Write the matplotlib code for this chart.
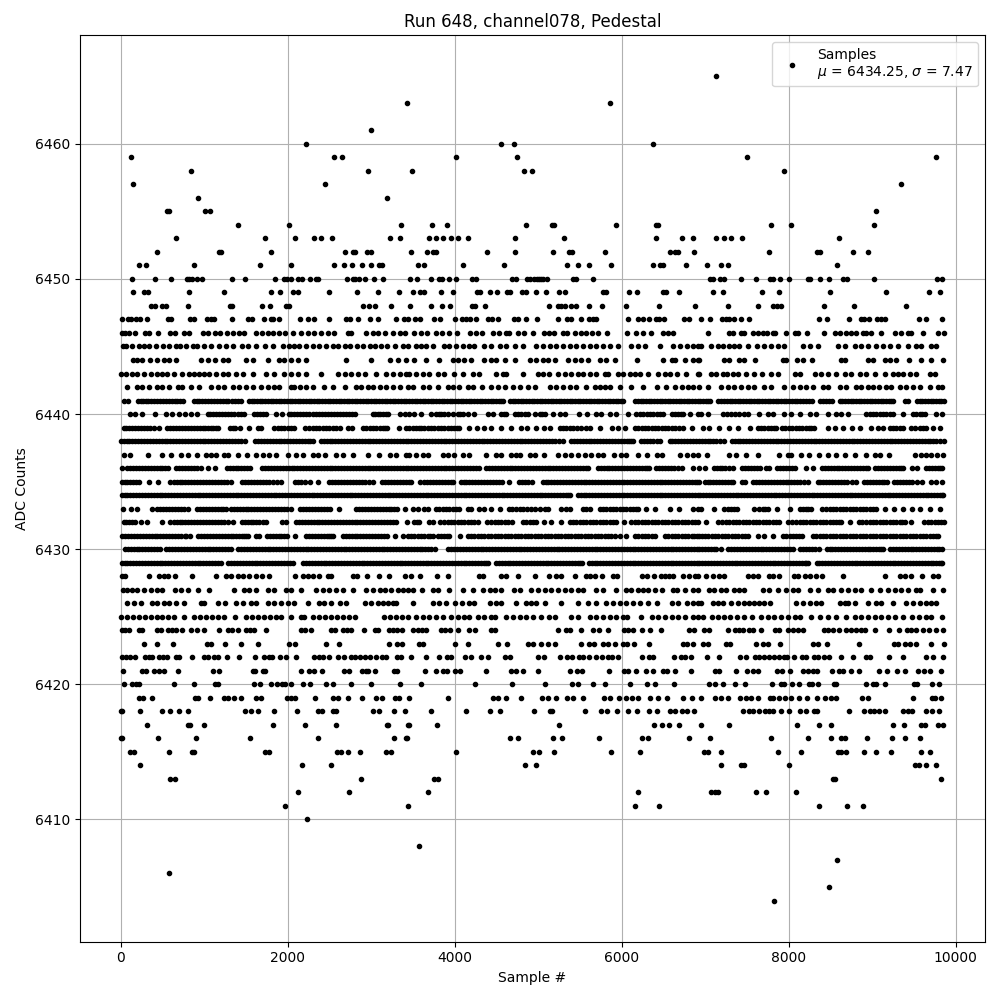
import matplotlib
matplotlib.use("Agg")
import matplotlib.pyplot as plt

# samples, one list per ADC level
row_6465 = [7124]
row_6463 = [3432, 5864]
row_6461 = [3002]
row_6460 = [2222, 4558, 4714, 6368]
row_6459 = [128, 2558, 2654, 4018, 4750, 7496, 9760]
row_6458 = [846, 2966, 3492, 4833, 4928, 7940]
row_6457 = [152, 2450, 9344]
row_6456 = [930, 3192]
row_6455 = [560, 580, 1014, 1074, 9044]
row_6454 = [1408, 2020, 3360, 3730, 3910, 4856, 5160, 5188, 5936, 6404, 6432, 7784, 8024, 9020]
row_6453 = [666, 1732, 2090, 2318, 2402, 2534, 3228, 3348, 3695, 3780, 3862, 3958, 4042, 4162, 4724, 5312, 6404, 6716, 6848, 7124, 7220, 7304, 7436, 8600]
row_6452 = [440, 1178, 1205, 1804, 2690, 2780, 2805, 2953, 3000, 3480, 3670, 3742, 3778, 4390, 4724, 5180, 5372, 5408, 5804, 6572, 6632, 6668, 6860, 7760, 8336, 8368, 8768, 8948]
row_6451 = [224, 307, 882, 1672, 2043, 2558, 2678, 2773, 2893, 3000, 3096, 3132, 3563, 3635, 4102, 4592, 5348, 5480, 5612, 5876, 6368, 6452, 6488, 6764, 7016, 7184, 7268, 8576]
row_6450 = [140, 415, 607, 798, 822, 858, 918, 978, 1337, 1492, 1851, 1960, 1995, 2043, 2127, 2175, 2270, 2342, 2366, 2713, 2785, 2809, 2857, 2929, 3037, 3144, 3467, 3551, 3719, 3814, 3850, 3934, 4018, 4210, 4250, 4688, 4736, 4868, 4896, 4948, 4988, 5008, 5030, 5060, 5108, 5420, 5448, 5660, 7052, 7088, 7172, 7220, 7424, 7604, 7772, 7808, 7892, 8000, 8228, 8256, 8372, 8480, 8648, 8696, 9020, 9776, 9836]
row_6449 = [152, 283, 331, 822, 1241, 1804, 1911, 2067, 2127, 2498, 2833, 3085, 3336, 3503, 3587, 3635, 3838, 3982, 4270, 4306, 4425, 4509, 4629, 4665, 4809, 4856, 4976, 5096, 5252, 5324, 5776, 5808, 6092, 6188, 6488, 6524, 6680, 7088, 7208, 7676, 7880, 8492, 9164, 9680, 9812]
row_6448 = [367, 415, 499, 539, 810, 1313, 1337, 1696, 1792, 1983, 2015, 2905, 2977, 3049, 3240, 3467, 3719, 3850, 3946, 4210, 4238, 4365, 5132, 5240, 5276, 5324, 5396, 5456, 5612, 5768, 6056, 6440, 6872, 7268, 7628, 7808, 7856, 7904, 8420, 8780, 9408]
row_6447 = [12, 92, 120, 180, 228, 319, 570, 600, 834, 878, 1038, 1078, 1118, 1337, 1529, 1576, 1720, 1804, 1828, 1900, 2151, 2246, 2318, 2498, 2702, 2750, 2845, 2989, 3085, 3300, 3396, 3444, 3527, 3587, 3755, 3826, 4006, 4090, 4138, 4186, 4258, 4401, 4449, 4521, 4714, 4762, 4856, 4988, 5240, 5348, 5396, 5516, 5612, 5660, 5696, 6080, 6200, 6248, 6320, 6404, 6440, 6500, 6740, 6800, 6944, 7052, 7196, 7248, 7284, 7340, 7424, 7520, 8360, 8456, 8720, 8864, 8900, 8960, 9056, 9104, 9152, 9560, 9648, 9836]
row_6446 = [12, 50, 100, 172, 292, 340, 452, 596, 648, 760, 820, 980, 1048, 1132, 1192, 1268, 1340, 1412, 1472, 1620, 1692, 1760, 1820, 1900, 1972, 2060, 2156, 2240, 2320, 2400, 2480, 2560, 2720, 2756, 2940, 3020, 3080, 3160, 3260, 3340, 3400, 3512, 3592, 3672, 3772, 3852, 3932, 4032, 4184, 4252, 4332, 4452, 4532, 4612, 4652, 4752, 4832, 4940, 5068, 5128, 5188, 5296, 5348, 5440, 5508, 5568, 5640, 5720, 5828, 6060, 6176, 6248, 6344, 6488, 6548, 6608, 7028, 7288, 7328, 7428, 7468, 7568, 7628, 7688, 7736, 7808, 7840, 7964, 8068, 8108, 8216, 8420, 8548, 8608, 8680, 8748, 8808, 8888, 8920, 8984, 9104, 9272, 9344, 9424, 9464, 9608, 9788, 9852]
row_6445 = [28, 68, 140, 220, 280, 340, 420, 508, 580, 660, 708, 788, 860, 908, 1000, 1080, 1180, 1260, 1340, 1452, 1520, 1620, 1732, 1820, 1940, 2020, 2080, 2140, 2220, 2300, 2372, 2460, 2540, 2600, 2680, 2748, 2828, 2900, 2980, 3040, 3120, 3188, 3280, 3380, 3440, 3536, 3596, 3656, 3736, 3876, 3936, 4016, 4096, 4176, 4236, 4356, 4436, 4536, 4616, 4716, 4816, 4976, 5056, 5136, 5216, 5296, 5376, 5456, 5536, 5616, 5696, 5776, 5856, 5956, 6116, 6196, 6276, 6456, 6616, 6696, 6776, 6856, 6916, 6948, 7068, 7148, 7208, 7288, 7348, 7408, 7508, 7616, 7708, 7788, 7868, 7948, 8168, 8248, 8348, 8588, 8668, 8788, 8868, 8948, 9048, 9128, 9208, 9308, 9428, 9528, 9588, 9708, 9768]
row_6444 = [148, 200, 260, 348, 440, 520, 580, 660, 960, 1040, 1132, 1220, 1280, 1500, 1580, 1760, 1900, 1960, 2040, 2120, 2220, 2700, 2996, 3220, 3320, 3420, 3516, 3656, 3816, 3976, 4036, 4116, 4196, 4356, 4436, 4496, 4596, 4716, 4896, 4976, 5056, 5116, 5196, 5356, 5436, 5516, 5596, 5736, 5816, 5916, 6184, 6496, 6596, 6636, 6756, 6856, 6916, 6928, 7228, 7288, 7408, 7468, 7596, 7928, 7968, 8096, 8168, 8276, 8628, 8668, 8948, 9008, 9148, 9208, 9288, 9440, 9588, 9708, 9848]
row_6443 = [0, 60, 140, 200, 280, 360, 440, 500, 560, 640, 740, 820, 880, 940, 1000, 1060, 1140, 1220, 1280, 1380, 1460, 1580, 1740, 1840, 1960, 2040, 2120, 2220, 2400, 2600, 2680, 2760, 2840, 2920, 3060, 3180, 3260, 3340, 3420, 3456, 3536, 3616, 3696, 3796, 3876, 3996, 4096, 4216, 4296, 4496, 4576, 4616, 4816, 4996, 5056, 5128, 5236, 5316, 5396, 5476, 5536, 5616, 5696, 5796, 5836, 5956, 6016, 6096, 6156, 6216, 6316, 6436, 6516, 6576, 6656, 6768, 6916, 6928, 7068, 7128, 7208, 7256, 7328, 7388, 7488, 7588, 7676, 7788, 7868, 8068, 8128, 8308, 8388, 8468, 8568, 8668, 8748, 8848, 8928, 9028, 9148, 9248, 9308, 9368, 9448, 9528, 9688, 9748]
row_6442 = [80, 200, 260, 340, 440, 500, 580, 692, 740, 840, 932, 1080, 1160, 1240, 1340, 1420, 1500, 1580, 1680, 1760, 1840, 1900, 2040, 2080, 2148, 2220, 2300, 2440, 2540, 2688, 2820, 2880, 2960, 3020, 3100, 3180, 3260, 3340, 3440, 3496, 3616, 3696, 3796, 3916, 3976, 4056, 4156, 4216, 4328, 4436, 4516, 4596, 4696, 4776, 4876, 4956, 5136, 5216, 5296, 5376, 5456, 5576, 5676, 5736, 5796, 5856, 5976, 6116, 6256, 6416, 6524, 6636, 6716, 6796, 6856, 6928, 7028, 7188, 7268, 7348, 7428, 7508, 7588, 7708, 7788, 7948, 8048, 8128, 8208, 8288, 8408, 8468, 8608, 8688, 8808, 8868, 8948, 9008, 9080, 9168, 9228, 9328, 9408, 9488, 9568, 9696, 9788, 9828]
row_6441 = [36, 84, 208, 270, 330, 400, 470, 540, 610, 680, 752, 876, 940, 1010, 1080, 1150, 1220, 1290, 1370, 1444, 1536, 1600, 1665, 1730, 1795, 1860, 1925, 1990, 2055, 2120, 2185, 2250, 2315, 2380, 2445, 2510, 2575, 2640, 2705, 2770, 2835, 2900, 2965, 3030, 3095, 3160, 3225, 3290, 3355, 3420, 3485, 3550, 3615, 3680, 3745, 3810, 3875, 3940, 4005, 4070, 4135, 4200, 4265, 4330, 4395, 4460, 4525, 4572, 4660, 4725, 4790, 4855, 4920, 4985, 5050, 5115, 5180, 5245, 5310, 5375, 5440, 5505, 5570, 5635, 5700, 5765, 5830, 5895, 5960, 6020, 6160, 6225, 6290, 6355, 6420, 6485, 6550, 6615, 6680, 6745, 6810, 6875, 6940, 7005, 7060, 7156, 7225, 7290, 7355, 7420, 7485, 7550, 7615, 7680, 7745, 7810, 7875, 7940, 8005, 8070, 8135, 8200, 8272, 8372, 8440, 8512, 8608, 8675, 8740, 8805, 8870, 8935, 9000, 9065, 9130, 9195, 9252, 9392, 9432, 9532, 9600, 9665, 9730, 9795, 9852]
fill_6441 = [240, 300, 365, 435, 505, 575, 645, 715, 908, 975, 1045, 1115, 1185, 1255, 1330, 1405, 1568, 1632, 1698, 1762, 1828, 1892, 1958, 2022, 2088, 2152, 2218, 2282, 2348, 2412, 2478, 2542, 2608, 2672, 2738, 2802, 2868, 2932, 2998, 3062, 3128, 3192, 3258, 3322, 3388, 3452, 3518, 3582, 3648, 3712, 3778, 3842, 3908, 3972, 4038, 4102, 4168, 4232, 4298, 4362, 4428, 4492, 4548, 4692, 4758, 4822, 4888, 4952, 5018, 5082, 5148, 5212, 5278, 5342, 5408, 5472, 5538, 5602, 5668, 5732, 5798, 5862, 5928, 5990, 6192, 6258, 6322, 6388, 6452, 6518, 6582, 6648, 6712, 6778, 6842, 6908, 6972, 7032, 7190, 7258, 7322, 7388, 7452, 7518, 7582, 7648, 7712, 7778, 7842, 7908, 7972, 8038, 8102, 8168, 8236, 8406, 8476, 8642, 8708, 8772, 8838, 8902, 8968, 9032, 9098, 9162, 9224, 9566, 9632, 9698, 9762, 9824]
row_6440 = [108, 172, 260, 408, 540, 610, 700, 770, 840, 910, 1040, 1110, 1180, 1250, 1320, 1400, 1480, 1600, 1670, 1740, 1860, 1930, 2010, 2080, 2150, 2220, 2300, 2380, 2450, 2520, 2590, 2660, 2730, 2800, 3016, 3080, 3140, 3204, 3340, 3400, 3456, 3516, 3596, 3716, 3776, 3836, 3916, 3976, 4036, 4096, 4156, 4236, 4396, 4456, 4556, 4616, 4716, 4796, 4876, 4956, 5016, 5080, 5176, 5256, 5316, 5488, 5588, 5696, 5756, 5856, 5936, 6076, 6176, 6256, 6336, 6416, 6496, 6596, 6676, 6736, 6816, 6916, 6948, 7028, 7208, 7308, 7408, 7508, 7648, 7748, 7808, 7948, 8028, 8128, 8248, 8320, 8468, 8568, 8628, 8708, 8928, 9008, 9088, 9168, 9248, 9368, 9488, 9568, 9628, 9768, 9828]
fill_6440 = [1075, 1145, 1215, 1285, 1360, 1440, 1635, 1705, 2045, 2115, 2185, 2260, 2340, 2415, 2485, 2555, 2625, 2695, 2765, 3048, 3110, 3172, 3806, 3876, 4066, 4586, 4756, 4836, 5040, 6216, 6296, 6376, 6456, 6636, 6706, 7258, 7358, 7458, 8968, 9048, 9128, 9208, 9528, 9598]
row_6439 = [36, 100, 170, 240, 310, 400, 464, 556, 630, 700, 770, 840, 910, 980, 1050, 1110, 1164, 1308, 1372, 1428, 1540, 1640, 1680, 1836, 1920, 2000, 2080, 2208, 2300, 2380, 2460, 2540, 2620, 2716, 2768, 2904, 2980, 3060, 3140, 3188, 3328, 3420, 3456, 3536, 3596, 3676, 3756, 3836, 3916, 3996, 4056, 4168, 4264, 4356, 4436, 4556, 4676, 4796, 4864, 4976, 5064, 5144, 5256, 5336, 5416, 5516, 5616, 5736, 5884, 5956, 6036, 6156, 6236, 6316, 6396, 6476, 6556, 6636, 6736, 6836, 6968, 7048, 7168, 7288, 7396, 7540, 7628, 7708, 7788, 7848, 7920, 8000, 8080, 8160, 8240, 8296, 8468, 8548, 8648, 8760, 8856, 8988, 9068, 9128, 9208, 9288, 9368, 9468, 9568, 9648, 9728, 9808]
fill_6439 = [68, 135, 205, 275, 355, 593, 665, 735, 805, 875, 945, 1015, 1080, 1137, 1340, 1878, 1960, 2040, 2254, 2340, 2420, 2500, 2580, 2942, 3020, 3100, 3164, 3496, 3566, 3636, 3716, 3796, 3876, 3956, 4026, 5296, 5376, 5466, 5566, 6196, 6276, 6356, 6436, 6516, 6596, 6686, 7668, 7748, 7818, 7960, 8040, 8120, 8200, 8268, 9248, 9328, 9508, 9608]
row_6438 = [0, 70, 140, 210, 280, 350, 420, 490, 560, 630, 700, 770, 840, 910, 980, 1050, 1120, 1190, 1260, 1330, 1400, 1484, 1608, 1680, 1750, 1820, 1890, 1960, 2030, 2100, 2170, 2240, 2304, 2396, 2466, 2536, 2606, 2676, 2746, 2816, 2886, 2956, 3026, 3096, 3166, 3236, 3306, 3376, 3446, 3516, 3586, 3656, 3726, 3796, 3866, 3936, 4006, 4076, 4146, 4216, 4286, 4356, 4426, 4496, 4566, 4636, 4706, 4776, 4846, 4916, 4986, 5056, 5126, 5196, 5300, 5392, 5462, 5532, 5602, 5672, 5742, 5812, 5882, 5952, 6022, 6092, 6140, 6232, 6302, 6372, 6460, 6572, 6642, 6712, 6782, 6852, 6922, 6992, 7062, 7132, 7220, 7316, 7386, 7456, 7526, 7596, 7666, 7736, 7806, 7876, 7946, 8016, 8086, 8156, 8226, 8296, 8366, 8436, 8506, 8576, 8646, 8716, 8786, 8856, 8926, 8996, 9066, 9136, 9206, 9276, 9346, 9416, 9486, 9556, 9626, 9696, 9766, 9852]
fill_6438 = [35, 105, 175, 245, 315, 385, 455, 525, 595, 665, 735, 805, 875, 945, 1015, 1085, 1155, 1225, 1295, 1365, 1442, 1644, 1715, 1785, 1855, 1925, 1995, 2065, 2135, 2205, 2272, 2431, 2501, 2571, 2641, 2711, 2781, 2851, 2921, 2991, 3061, 3131, 3201, 3271, 3341, 3411, 3481, 3551, 3621, 3691, 3761, 3831, 3901, 3971, 4041, 4111, 4181, 4251, 4321, 4391, 4461, 4531, 4601, 4671, 4741, 4811, 4881, 4951, 5021, 5091, 5161, 5248, 5427, 5497, 5567, 5637, 5707, 5777, 5847, 5917, 5987, 6057, 6116, 6267, 6337, 6416, 6607, 6677, 6747, 6817, 6887, 6957, 7027, 7097, 7176, 7351, 7421, 7491, 7561, 7631, 7701, 7771, 7841, 7911, 7981, 8051, 8121, 8191, 8261, 8331, 8401, 8471, 8541, 8611, 8681, 8751, 8821, 8891, 8961, 9031, 9101, 9171, 9241, 9311, 9381, 9451, 9521, 9591, 9661, 9731, 9809]
row_6437 = [36, 108, 332, 492, 600, 720, 800, 908, 1020, 1080, 1140, 1240, 1280, 1400, 1508, 1620, 1700, 1780, 1860, 2008, 2100, 2180, 2300, 2360, 2448, 2580, 2660, 2780, 2960, 3092, 3220, 3300, 3420, 3456, 3536, 3616, 3676, 3856, 3916, 3996, 4096, 4176, 4376, 4496, 4556, 4676, 4736, 4784, 4896, 4956, 5068, 5236, 5316, 5396, 5476, 5556, 5636, 5716, 5776, 5908, 5996, 6048, 6196, 6304, 6416, 6476, 6696, 6776, 6856, 6916, 7016, 7288, 7368, 7488, 7628, 7880, 7988, 8028, 8140, 8240, 8360, 8468, 8568, 8668, 8788, 8928, 9028, 9088, 9196, 9512, 9588, 9648, 9708, 9776, 9848]
row_6436 = [16, 80, 150, 220, 290, 360, 430, 500, 564, 664, 735, 805, 880, 956, 1040, 1132, 1276, 1345, 1410, 1480, 1544, 1696, 1766, 1836, 1906, 1976, 2046, 2116, 2186, 2256, 2326, 2396, 2466, 2536, 2606, 2676, 2746, 2816, 2886, 2956, 3026, 3096, 3166, 3236, 3306, 3376, 3446, 3516, 3586, 3656, 3726, 3796, 3866, 3936, 4006, 4076, 4146, 4216, 4286, 4376, 4446, 4516, 4586, 4656, 4726, 4796, 4866, 4936, 5006, 5076, 5146, 5216, 5286, 5356, 5426, 5496, 5566, 5600, 5712, 5782, 5852, 5922, 5992, 6062, 6132, 6202, 6272, 6320, 6412, 6482, 6552, 6622, 6720, 6852, 6922, 6992, 7104, 7170, 7240, 7332, 7444, 7510, 7580, 7660, 7732, 7764, 7864, 7930, 8000, 8072, 8204, 8288, 8396, 8466, 8536, 8606, 8676, 8746, 8816, 8886, 8952, 9036, 9106, 9176, 9246, 9316, 9372, 9476, 9532, 9644, 9714, 9784, 9836]
fill_6436 = [115, 185, 255, 325, 395, 465, 532, 700, 770, 842, 918, 1310, 1378, 1445, 1512, 1731, 1801, 1871, 1941, 2011, 2081, 2151, 2221, 2291, 2361, 2431, 2501, 2571, 2641, 2711, 2781, 2851, 2921, 2991, 3061, 3131, 3201, 3271, 3341, 3411, 3481, 3551, 3621, 3691, 3761, 3831, 3901, 3971, 4041, 4111, 4181, 4251, 4411, 4481, 4551, 4621, 4691, 4761, 4831, 4901, 4971, 5041, 5111, 5181, 5251, 5321, 5391, 5461, 5531, 5747, 5817, 5887, 5957, 6027, 6097, 6167, 6237, 6296, 6447, 6517, 6587, 6670, 7137, 7205, 7286, 7477, 7545, 7620, 7897, 7965, 8036, 8431, 8501, 8571, 8641, 8711, 8781, 8851, 8919, 9071, 9141, 9211, 9281, 9344, 9679, 9749, 9810]
row_6435 = [16, 80, 150, 224, 336, 448, 596, 670, 740, 810, 880, 950, 1020, 1090, 1160, 1240, 1316, 1456, 1530, 1600, 1670, 1740, 1820, 1924, 2088, 2160, 2264, 2368, 2496, 2570, 2640, 2710, 2780, 2850, 2920, 3024, 3128, 3200, 3270, 3340, 3420, 3480, 3580, 3636, 3706, 3776, 3846, 3916, 3984, 4072, 4140, 4210, 4280, 4350, 4420, 4490, 4560, 4648, 4772, 4840, 4924, 5052, 5122, 5192, 5262, 5332, 5402, 5472, 5542, 5612, 5682, 5752, 5822, 5892, 5962, 6032, 6102, 6172, 6242, 6312, 6382, 6452, 6522, 6592, 6662, 6732, 6802, 6872, 6930, 6992, 7062, 7132, 7202, 7272, 7332, 7444, 7480, 7576, 7646, 7716, 7786, 7856, 7926, 7996, 8066, 8136, 8232, 8344, 8414, 8484, 8554, 8624, 8694, 8808, 8904, 8974, 9044, 9114, 9172, 9264, 9334, 9404, 9474, 9592, 9704, 9768, 9836]
fill_6435 = [48, 115, 187, 633, 705, 775, 845, 915, 985, 1055, 1125, 1200, 1278, 1493, 1565, 1635, 1705, 1780, 1872, 2124, 2212, 2533, 2605, 2675, 2745, 2815, 2885, 2972, 3164, 3235, 3305, 3380, 3450, 3671, 3741, 3811, 3881, 3950, 4106, 4175, 4245, 4315, 4385, 4455, 4525, 4806, 4882, 5087, 5157, 5227, 5297, 5367, 5437, 5507, 5577, 5647, 5717, 5787, 5857, 5927, 5997, 6067, 6137, 6207, 6277, 6347, 6417, 6487, 6557, 6627, 6697, 6767, 6837, 6900, 7027, 7097, 7167, 7237, 7302, 7611, 7681, 7751, 7821, 7891, 7961, 8031, 8101, 8184, 8379, 8449, 8519, 8589, 8659, 8751, 8939, 9009, 9079, 9143, 9299, 9369, 9439, 9533]
row_6434 = [12, 80, 150, 220, 290, 360, 430, 500, 570, 640, 710, 780, 850, 920, 990, 1060, 1130, 1200, 1270, 1340, 1410, 1480, 1550, 1620, 1690, 1760, 1830, 1900, 1970, 2040, 2110, 2180, 2250, 2320, 2390, 2460, 2530, 2600, 2670, 2740, 2810, 2880, 2950, 3020, 3090, 3160, 3230, 3300, 3370, 3440, 3510, 3580, 3650, 3720, 3790, 3860, 3930, 4000, 4070, 4140, 4210, 4280, 4350, 4420, 4490, 4560, 4630, 4700, 4770, 4840, 4910, 4980, 5050, 5120, 5190, 5260, 5330, 5380, 5472, 5542, 5612, 5682, 5752, 5822, 5892, 5962, 6032, 6102, 6172, 6242, 6312, 6382, 6452, 6522, 6592, 6662, 6732, 6802, 6872, 6942, 7012, 7082, 7152, 7222, 7292, 7362, 7432, 7502, 7572, 7642, 7712, 7782, 7852, 7922, 7992, 8062, 8132, 8202, 8272, 8342, 8412, 8482, 8552, 8622, 8692, 8762, 8832, 8902, 8972, 9042, 9112, 9182, 9252, 9322, 9392, 9462, 9532, 9602, 9672, 9742, 9812, 9848]
fill_6434 = [46, 115, 185, 255, 325, 395, 465, 535, 605, 675, 745, 815, 885, 955, 1025, 1095, 1165, 1235, 1305, 1375, 1445, 1515, 1585, 1655, 1725, 1795, 1865, 1935, 2005, 2075, 2145, 2215, 2285, 2355, 2425, 2495, 2565, 2635, 2705, 2775, 2845, 2915, 2985, 3055, 3125, 3195, 3265, 3335, 3405, 3475, 3545, 3615, 3685, 3755, 3825, 3895, 3965, 4035, 4105, 4175, 4245, 4315, 4385, 4455, 4525, 4595, 4665, 4735, 4805, 4875, 4945, 5015, 5085, 5155, 5225, 5295, 5355, 5507, 5577, 5647, 5717, 5787, 5857, 5927, 5997, 6067, 6137, 6207, 6277, 6347, 6417, 6487, 6557, 6627, 6697, 6767, 6837, 6907, 6977, 7047, 7117, 7187, 7257, 7327, 7397, 7467, 7537, 7607, 7677, 7747, 7817, 7887, 7957, 8027, 8097, 8167, 8237, 8307, 8377, 8447, 8517, 8587, 8657, 8727, 8797, 8867, 8937, 9007, 9077, 9147, 9217, 9287, 9357, 9427, 9497, 9567, 9637, 9707, 9777, 9830]
row_6433 = [28, 128, 192, 376, 440, 510, 580, 650, 720, 800, 916, 990, 1060, 1130, 1200, 1260, 1316, 1390, 1460, 1530, 1600, 1670, 1740, 1810, 1880, 1950, 2044, 2148, 2220, 2290, 2360, 2430, 2504, 2612, 2816, 2890, 2960, 3030, 3100, 3180, 3240, 3304, 3408, 3496, 3556, 3636, 3676, 3776, 3856, 3936, 4016, 4056, 4156, 4192, 4288, 4356, 4428, 4536, 4644, 4736, 4816, 4916, 5016, 5076, 5116, 5276, 5376, 5536, 5616, 5736, 5816, 5896, 5976, 6056, 6136, 6200, 6288, 6396, 6576, 6688, 6856, 6916, 6948, 7108, 7228, 7308, 7376, 7588, 7688, 7752, 7856, 8016, 8128, 8208, 8260, 8396, 8488, 8568, 8648, 8728, 8808, 8888, 8968, 9048, 9148, 9256, 9368, 9476, 9568, 9688, 9808]
fill_6433 = [475, 545, 615, 685, 760, 953, 1025, 1095, 1165, 1230, 1353, 1425, 1495, 1565, 1635, 1705, 1775, 1845, 1915, 1997, 2184, 2255, 2325, 2395, 2467, 2853, 2925, 2995, 3065, 3140, 3210, 3272, 3816, 3896, 3976, 4690, 4776, 4866, 4966, 5326, 5576, 5776, 5856, 5936, 6016, 6096, 6168, 7268, 7342, 7638, 7720, 8168, 8234, 8442, 8528, 8608, 8688, 8768, 8848, 8928, 9008]
row_6432 = [36, 100, 170, 248, 312, 492, 596, 670, 740, 810, 880, 950, 1020, 1090, 1160, 1240, 1344, 1448, 1520, 1590, 1660, 1744, 1936, 1984, 2104, 2170, 2240, 2310, 2380, 2450, 2520, 2590, 2660, 2730, 2800, 2870, 2940, 3010, 3080, 3150, 3220, 3300, 3432, 3516, 3576, 3688, 3736, 3824, 3916, 3996, 4076, 4156, 4236, 4276, 4384, 4476, 4556, 4636, 4680, 4816, 4896, 4976, 5064, 5156, 5276, 5376, 5456, 5536, 5616, 5696, 5776, 5856, 5936, 6024, 6116, 6196, 6276, 6356, 6436, 6516, 6596, 6676, 6756, 6836, 6916, 7008, 7156, 7248, 7328, 7408, 7488, 7568, 7648, 7728, 7808, 7888, 7996, 8088, 8168, 8248, 8328, 8408, 8488, 8568, 8628, 8728, 8836, 8928, 9008, 9088, 9168, 9248, 9328, 9388, 9464, 9616, 9708, 9788, 9856]
fill_6432 = [68, 135, 633, 705, 775, 845, 915, 985, 1055, 1125, 1200, 1290, 1484, 1555, 1625, 1700, 2137, 2205, 2275, 2345, 2415, 2485, 2555, 2625, 2695, 2765, 2835, 2905, 2975, 3045, 3115, 3185, 3260, 3546, 3870, 3956, 4036, 4116, 4196, 4430, 4516, 4596, 4856, 4936, 5416, 5496, 5576, 5656, 5736, 5816, 5896, 6156, 6236, 6316, 6396, 6476, 6556, 6636, 6716, 6796, 6876, 7202, 7288, 7368, 7448, 7528, 7608, 7688, 7768, 7848, 8042, 8128, 8208, 8288, 8368, 8448, 8528, 8598, 8882, 8968, 9048, 9128, 9208, 9288, 9358, 9662, 9748, 9822]
row_6431 = [16, 90, 160, 230, 300, 370, 440, 510, 580, 650, 720, 770, 824, 928, 1000, 1070, 1140, 1210, 1280, 1350, 1420, 1480, 1524, 1624, 1656, 1756, 1820, 1890, 1960, 1996, 2088, 2216, 2290, 2360, 2430, 2500, 2544, 2656, 2730, 2800, 2870, 2940, 3010, 3080, 3150, 3192, 3288, 3376, 3440, 3516, 3596, 3676, 3736, 3796, 3876, 3936, 4064, 4156, 4236, 4316, 4396, 4476, 4556, 4636, 4716, 4796, 4876, 4956, 5036, 5116, 5196, 5276, 5356, 5436, 5516, 5596, 5676, 5756, 5836, 5916, 5976, 6056, 6156, 6236, 6316, 6396, 6516, 6596, 6676, 6756, 6836, 6896, 6956, 7036, 7116, 7196, 7276, 7356, 7436, 7516, 7628, 7708, 7808, 7928, 8008, 8088, 8160, 8292, 8368, 8448, 8528, 8608, 8688, 8768, 8848, 8928, 9008, 9088, 9168, 9248, 9328, 9408, 9488, 9568, 9648, 9728, 9788]
fill_6431 = [53, 125, 195, 265, 335, 405, 475, 545, 615, 685, 785, 964, 1035, 1105, 1175, 1245, 1315, 1385, 1450, 1500, 1788, 1855, 1925, 2253, 2325, 2395, 2465, 2522, 2693, 2765, 2835, 2905, 2975, 3045, 3115, 3478, 3556, 3636, 3706, 3836, 3906, 4196, 4276, 4356, 4436, 4516, 4596, 4676, 4756, 4836, 4916, 4996, 5076, 5156, 5236, 5316, 5396, 5476, 5556, 5636, 5716, 5796, 5876, 6196, 6276, 6356, 6556, 6636, 6716, 6796, 6866, 6926, 6996, 7076, 7156, 7236, 7316, 7396, 7476, 7968, 8048, 8124, 8330, 8408, 8488, 8568, 8648, 8728, 8808, 8888, 8968, 9048, 9128, 9208, 9288, 9368, 9448, 9528, 9608, 9688, 9758]
row_6430 = [48, 120, 190, 260, 330, 400, 470, 548, 620, 690, 760, 830, 900, 970, 1040, 1110, 1180, 1250, 1316, 1408, 1478, 1548, 1618, 1688, 1758, 1828, 1898, 1968, 2038, 2108, 2178, 2248, 2318, 2388, 2458, 2528, 2598, 2668, 2738, 2808, 2878, 2948, 3018, 3088, 3158, 3228, 3298, 3368, 3438, 3508, 3578, 3648, 3718, 3760, 3924, 3994, 4064, 4134, 4204, 4274, 4344, 4414, 4484, 4554, 4624, 4694, 4764, 4834, 4904, 4974, 5044, 5114, 5184, 5254, 5324, 5394, 5464, 5534, 5604, 5674, 5744, 5814, 5884, 5954, 6024, 6094, 6164, 6234, 6304, 6374, 6444, 6514, 6584, 6654, 6724, 6794, 6864, 6930, 7000, 7070, 7130, 7192, 7276, 7346, 7416, 7486, 7556, 7626, 7696, 7766, 7836, 7906, 7976, 8052, 8132, 8202, 8272, 8364, 8452, 8522, 8592, 8662, 8732, 8802, 8872, 8942, 9012, 9082, 9132, 9212, 9282, 9352, 9422, 9492, 9562, 9632, 9702, 9772, 9832]
fill_6430 = [84, 155, 225, 295, 365, 435, 584, 655, 725, 795, 865, 935, 1005, 1075, 1145, 1215, 1283, 1443, 1513, 1583, 1653, 1723, 1793, 1863, 1933, 2003, 2073, 2143, 2213, 2283, 2353, 2423, 2493, 2563, 2633, 2703, 2773, 2843, 2913, 2983, 3053, 3123, 3193, 3263, 3333, 3403, 3473, 3543, 3613, 3683, 3959, 4029, 4099, 4169, 4239, 4309, 4379, 4449, 4519, 4589, 4659, 4729, 4799, 4869, 4939, 5009, 5079, 5149, 5219, 5289, 5359, 5429, 5499, 5569, 5639, 5709, 5779, 5849, 5919, 5989, 6059, 6129, 6199, 6269, 6339, 6409, 6479, 6549, 6619, 6689, 6759, 6829, 6897, 6965, 7035, 7100, 7311, 7381, 7451, 7521, 7591, 7661, 7731, 7801, 7871, 7941, 8014, 8167, 8237, 8318, 8487, 8557, 8627, 8697, 8767, 8837, 8907, 8977, 9047, 9107, 9247, 9317, 9387, 9457, 9527, 9597, 9667, 9737, 9802]
row_6429 = [12, 80, 150, 220, 290, 360, 430, 500, 570, 640, 710, 780, 850, 920, 990, 1060, 1130, 1204, 1288, 1358, 1428, 1498, 1568, 1638, 1708, 1778, 1848, 1918, 1988, 2064, 2184, 2254, 2324, 2394, 2464, 2534, 2604, 2674, 2744, 2814, 2884, 2954, 3024, 3094, 3164, 3234, 3304, 3374, 3440, 3510, 3580, 3650, 3720, 3790, 3860, 3930, 4000, 4070, 4140, 4210, 4280, 4350, 4400, 4492, 4562, 4632, 4702, 4772, 4842, 4912, 4982, 5052, 5122, 5192, 5262, 5332, 5402, 5472, 5520, 5604, 5674, 5744, 5814, 5884, 5954, 6024, 6094, 6164, 6234, 6304, 6374, 6444, 6514, 6584, 6654, 6724, 6794, 6864, 6930, 7000, 7070, 7140, 7210, 7280, 7350, 7420, 7490, 7560, 7630, 7700, 7770, 7840, 7910, 7980, 8050, 8120, 8190, 8232, 8332, 8402, 8472, 8542, 8612, 8682, 8752, 8822, 8892, 8962, 9032, 9102, 9172, 9242, 9312, 9382, 9452, 9522, 9592, 9662, 9732, 9802, 9832]
fill_6429 = [46, 115, 185, 255, 325, 395, 465, 535, 605, 675, 745, 815, 885, 955, 1025, 1095, 1167, 1323, 1393, 1463, 1533, 1603, 1673, 1743, 1813, 1883, 1953, 2026, 2219, 2289, 2359, 2429, 2499, 2569, 2639, 2709, 2779, 2849, 2919, 2989, 3059, 3129, 3199, 3269, 3339, 3407, 3475, 3545, 3615, 3685, 3755, 3825, 3895, 3965, 4035, 4105, 4175, 4245, 4315, 4375, 4527, 4597, 4667, 4737, 4807, 4877, 4947, 5017, 5087, 5157, 5227, 5297, 5367, 5437, 5496, 5639, 5709, 5779, 5849, 5919, 5989, 6059, 6129, 6199, 6269, 6339, 6409, 6479, 6549, 6619, 6689, 6759, 6829, 6897, 6965, 7035, 7105, 7175, 7245, 7315, 7385, 7455, 7525, 7595, 7665, 7735, 7805, 7875, 7945, 8015, 8085, 8155, 8211, 8367, 8437, 8507, 8577, 8647, 8717, 8787, 8857, 8927, 8997, 9067, 9137, 9207, 9277, 9347, 9417, 9487, 9557, 9627, 9697, 9767, 9817]
row_6428 = [20, 52, 344, 460, 520, 572, 648, 848, 1140, 1260, 1320, 1400, 1460, 1540, 1620, 1692, 1780, 2088, 2180, 2240, 2308, 2372, 2480, 2520, 2780, 2828, 2952, 3088, 3212, 3400, 3472, 3584, 3784, 3916, 4296, 4336, 4556, 4608, 4756, 4956, 5128, 5216, 5276, 5440, 5568, 5616, 5676, 5764, 5896, 5944, 6236, 6296, 6388, 6464, 6516, 6568, 6616, 6736, 6808, 6876, 6908, 7008, 7088, 7168, 7228, 7508, 7568, 7628, 7768, 7808, 7888, 8056, 8108, 8188, 8248, 8320, 8400, 8648, 9156, 9328, 9388, 9468, 9596, 9728, 9788]
row_6427 = [28, 80, 140, 200, 280, 360, 440, 500, 648, 720, 800, 920, 1060, 1360, 1480, 1540, 1620, 1760, 1840, 1980, 2040, 2160, 2340, 2420, 2500, 2580, 2660, 2780, 2940, 3020, 3100, 3160, 3240, 3320, 3380, 3440, 3496, 3608, 3736, 3796, 3936, 4096, 4224, 4336, 4416, 4476, 4556, 4708, 4784, 4916, 4996, 5076, 5156, 5236, 5316, 5396, 5476, 5536, 5696, 5776, 5928, 6056, 6116, 6196, 6256, 6316, 6396, 6476, 6616, 6656, 6756, 6856, 6916, 7048, 7108, 7188, 7248, 7348, 7408, 7468, 7696, 7768, 7868, 7968, 8048, 8108, 8248, 8348, 8468, 8528, 8628, 8708, 8788, 8868, 8988, 9088, 9188, 9268, 9348, 9428, 9528, 9568, 9728, 9840]
row_6426 = [80, 160, 240, 380, 440, 520, 580, 660, 760, 960, 1000, 1160, 1252, 1380, 1460, 1560, 1620, 1760, 1840, 1920, 2000, 2072, 2248, 2380, 2440, 2520, 2620, 2700, 2920, 3000, 3080, 3140, 3200, 3260, 3300, 3496, 3736, 3816, 3896, 4008, 4084, 4176, 4236, 4416, 4496, 4556, 4736, 4856, 4908, 4968, 5076, 5276, 5476, 5596, 5696, 5816, 5896, 5976, 6056, 6136, 6216, 6316, 6416, 6596, 6676, 6776, 6856, 6916, 6948, 7088, 7148, 7208, 7304, 7396, 7468, 7528, 7588, 7648, 7708, 7776, 8088, 8168, 8248, 8328, 8388, 8608, 8668, 8708, 8796, 8948, 9048, 9108, 9248, 9408, 9488, 9568, 9648, 9708, 9760]
row_6425 = [8, 80, 150, 220, 290, 360, 430, 500, 570, 640, 756, 876, 950, 1020, 1090, 1160, 1240, 1364, 1504, 1574, 1644, 1714, 1784, 1854, 1924, 2044, 2156, 2192, 2308, 2378, 2448, 2518, 2588, 2658, 2728, 2800, 3156, 3226, 3296, 3366, 3440, 3540, 3616, 3696, 3776, 3856, 3956, 4036, 4116, 4168, 4276, 4356, 4436, 4484, 4616, 4696, 4776, 4856, 4936, 5028, 5124, 5196, 5396, 5476, 5624, 5696, 5776, 5856, 5936, 6016, 6068, 6228, 6356, 6436, 6516, 6596, 6676, 6756, 6856, 6916, 6968, 7076, 7148, 7228, 7296, 7380, 7468, 7560, 7668, 7748, 7828, 7908, 7988, 8068, 8136, 8268, 8368, 8468, 8568, 8680, 8796, 8868, 8948, 9028, 9108, 9188, 9268, 9368, 9480, 9560, 9640, 9708, 9828]
row_6424 = [12, 48, 100, 220, 260, 440, 480, 572, 620, 660, 740, 836, 908, 992, 1172, 1280, 1328, 1408, 1500, 1548, 1592, 1736, 2156, 2204, 2276, 2516, 2564, 2660, 2708, 2756, 2912, 3044, 3080, 3212, 3260, 3308, 3368, 3500, 3560, 3608, 3656, 3836, 3884, 3948, 4040, 4172, 4244, 4436, 4484, 5240, 5336, 5384, 5516, 5660, 5732, 5840, 6032, 6080, 6140, 6236, 6332, 6464, 6800, 6860, 6980, 7040, 7268, 7352, 7400, 7448, 7520, 7568, 7664, 7832, 7880, 7988, 8048, 8108, 8168, 8420, 8468, 8528, 8600, 8684, 8744, 8804, 8864, 8912, 9032, 9200, 9320, 9416, 9464, 9524, 9608, 9680, 9764, 9848]
row_6423 = [284, 440, 632, 1028, 1076, 1244, 1436, 1640, 2012, 2084, 2456, 2612, 3212, 3308, 3368, 3572, 3620, 4004, 4160, 4520, 4628, 4880, 4940, 5036, 5120, 5204, 5516, 5612, 5672, 5780, 5840, 5924, 6020, 6068, 6152, 6320, 6728, 6776, 6848, 6968, 7028, 7244, 7292, 7604, 7688, 7748, 7892, 8288, 8348, 8456, 8840, 9260, 9308, 9392, 9452, 9524, 9708, 9852]
row_6422 = [20, 68, 108, 176, 292, 340, 380, 460, 512, 560, 660, 700, 848, 992, 1040, 1120, 1160, 1268, 1420, 1612, 1712, 1772, 1808, 1904, 1976, 2096, 2312, 2372, 2420, 2500, 2600, 2672, 2756, 2804, 2864, 2924, 2984, 3056, 3128, 3172, 3308, 3352, 3476, 3656, 3808, 3908, 3956, 4124, 4196, 4316, 4400, 4604, 4664, 5000, 5072, 5264, 5348, 5408, 5492, 5540, 5608, 5696, 5768, 5840, 5888, 5960, 6236, 6320, 6368, 6620, 6704, 6752, 6824, 7016, 7160, 7412, 7484, 7592, 7640, 7700, 7760, 7820, 7880, 7940, 7976, 8060, 8156, 8204, 8300, 8348, 8420, 8480, 8624, 8768, 8924, 8972, 9200, 9368, 9644, 9728, 9848]
row_6421 = [32, 260, 308, 404, 460, 524, 692, 1100, 1172, 1580, 1604, 1700, 1724, 2156, 2252, 2312, 2408, 2672, 2732, 2888, 2936, 2960, 3044, 3272, 3308, 3644, 3776, 3860, 3908, 4004, 4064, 4376, 4676, 4736, 4820, 5000, 5384, 5468, 5528, 5852, 6032, 6080, 6176, 6284, 6368, 6488, 6536, 6632, 6824, 7112, 7160, 7364, 7496, 7568, 7628, 7856, 7916, 8012, 8168, 8228, 8288, 8336, 8516, 8600, 8648, 8744, 8840, 9080, 9176, 9296, 9392, 9548, 9620, 9692, 9824]
row_6420 = [44, 140, 180, 224, 644, 872, 1124, 1160, 1592, 1664, 1796, 1868, 1928, 1964, 2036, 2180, 2264, 2456, 2540, 2756, 2996, 3344, 3596, 4244, 4688, 5084, 5408, 5480, 5660, 5804, 6104, 6296, 6392, 6620, 7040, 7112, 7208, 7352, 7472, 7796, 7904, 7940, 8036, 8120, 8240, 8276, 8348, 8540, 8564, 8924, 9008, 9044, 9152, 9500, 9536, 9716, 9800]
row_6419 = [220, 272, 380, 884, 920, 1064, 1232, 1280, 1352, 1436, 1616, 1684, 1988, 2036, 2084, 2324, 2540, 2600, 2720, 2888, 3056, 3128, 3284, 3332, 3452, 3920, 4460, 4520, 4616, 4796, 5048, 5120, 5216, 5348, 5420, 5540, 5792, 5864, 5972, 6056, 6128, 6200, 6332, 6428, 6536, 6728, 6836, 6944, 7112, 7184, 7268, 7412, 7484, 7544, 7628, 7772, 7808, 7880, 7952, 8024, 8120, 8216, 8336, 8432, 8504, 8564, 8876, 8948, 9488, 9716, 9752, 9824]
row_6418 = [0, 20, 236, 500, 596, 704, 800, 1484, 1556, 1640, 1832, 2108, 2360, 2408, 2540, 2580, 3020, 3092, 3272, 3404, 3716, 4136, 4424, 4544, 4952, 5144, 5168, 5564, 5756, 5828, 5948, 6080, 6188, 6320, 6416, 6572, 6632, 6716, 6776, 6860, 7448, 7520, 7568, 7640, 7712, 7760, 7808, 7904, 8000, 8132, 8204, 8300, 8336, 8720, 8900, 8972, 9020, 9080, 9152, 9368, 9428, 9476, 9644, 9716, 9800]
row_6417 = [320, 800, 824, 992, 1820, 2204, 2576, 3188, 3200, 3440, 3452, 3788, 5252, 6380, 6476, 6560, 6680, 6944, 7280, 8096, 8360, 8504, 9248, 9380, 9584, 9632, 9788, 9848]
row_6416 = [0, 12, 452, 896, 1544, 2360, 3272, 3416, 3428, 4664, 4760, 5180, 5288, 5732, 6236, 6308, 6800, 7052, 7784, 8228, 8504, 8624, 8672, 8936, 9236, 9392, 9572]
row_6415 = [116, 156, 584, 848, 872, 1724, 1772, 2588, 2636, 2720, 2864, 3176, 3236, 4016, 4940, 5012, 5192, 5876, 6212, 6980, 7028, 7184, 7868, 8144, 8588, 8624, 8684, 8900, 9044, 9224, 9584, 9692]
row_6414 = [236, 2168, 2516, 4844, 4976, 7184, 7424, 7460, 8000, 9512, 9560, 9644, 9764]
row_6413 = [596, 656, 2876, 3752, 3800, 8528, 8552, 9824]
row_6412 = [2120, 2732, 3680, 6200, 7064, 7112, 7148, 7604, 7724, 8084]
row_6411 = [1964, 3440, 6164, 6440, 8360, 8696, 8888]
row_6410 = [2228]
row_6408 = [3572]
row_6407 = [8576]
row_6406 = [584]
row_6405 = [8480]
row_6404 = [7820]

levels = [6465, 6463, 6461, 6460, 6459, 6458, 6457, 6456, 6455, 6454, 6453, 6452, 6451, 6450, 6449, 6448, 6447, 6446, 6445, 6444, 6443, 6442, 6441, 6440, 6439, 6438, 6437, 6436, 6435, 6434, 6433, 6432, 6431, 6430, 6429, 6428, 6427, 6426, 6425, 6424, 6423, 6422, 6421, 6420, 6419, 6418, 6417, 6416, 6415, 6414, 6413, 6412, 6411, 6410, 6408, 6407, 6406, 6405, 6404]
rows = [row_6465, row_6463, row_6461, row_6460, row_6459, row_6458, row_6457, row_6456, row_6455, row_6454, row_6453, row_6452, row_6451, row_6450, row_6449, row_6448, row_6447, row_6446, row_6445, row_6444, row_6443, row_6442, row_6441 + fill_6441, row_6440 + fill_6440, row_6439 + fill_6439, row_6438 + fill_6438, row_6437, row_6436 + fill_6436, row_6435 + fill_6435, row_6434 + fill_6434, row_6433 + fill_6433, row_6432 + fill_6432, row_6431 + fill_6431, row_6430 + fill_6430, row_6429 + fill_6429, row_6428, row_6427, row_6426, row_6425, row_6424, row_6423, row_6422, row_6421, row_6420, row_6419, row_6418, row_6417, row_6416, row_6415, row_6414, row_6413, row_6412, row_6411, row_6410, row_6408, row_6407, row_6406, row_6405, row_6404]

mean_adc = 6434.25
std_adc = 7.47

# flatten the rows into x and y
sample_x = []
sample_y = []
for level, row in zip(levels, rows):
    sample_x += row
    sample_y += [level] * len(row)

fig, ax = plt.subplots(figsize=(10, 10), dpi=100)
ax.plot(sample_x, sample_y, "k.", label="Samples\n$\\mu$ = %.2f, $\\sigma$ = %.2f" % (mean_adc, std_adc))
ax.set_title("Run 648, channel078, Pedestal")
ax.set_xlabel("Sample #")
ax.set_ylabel("ADC Counts")
ax.grid(True)
ax.legend(loc="upper right")
fig.tight_layout()
fig.subplots_adjust(top=0.965)  # reference axes starts a little higher
fig.savefig("out.png")
